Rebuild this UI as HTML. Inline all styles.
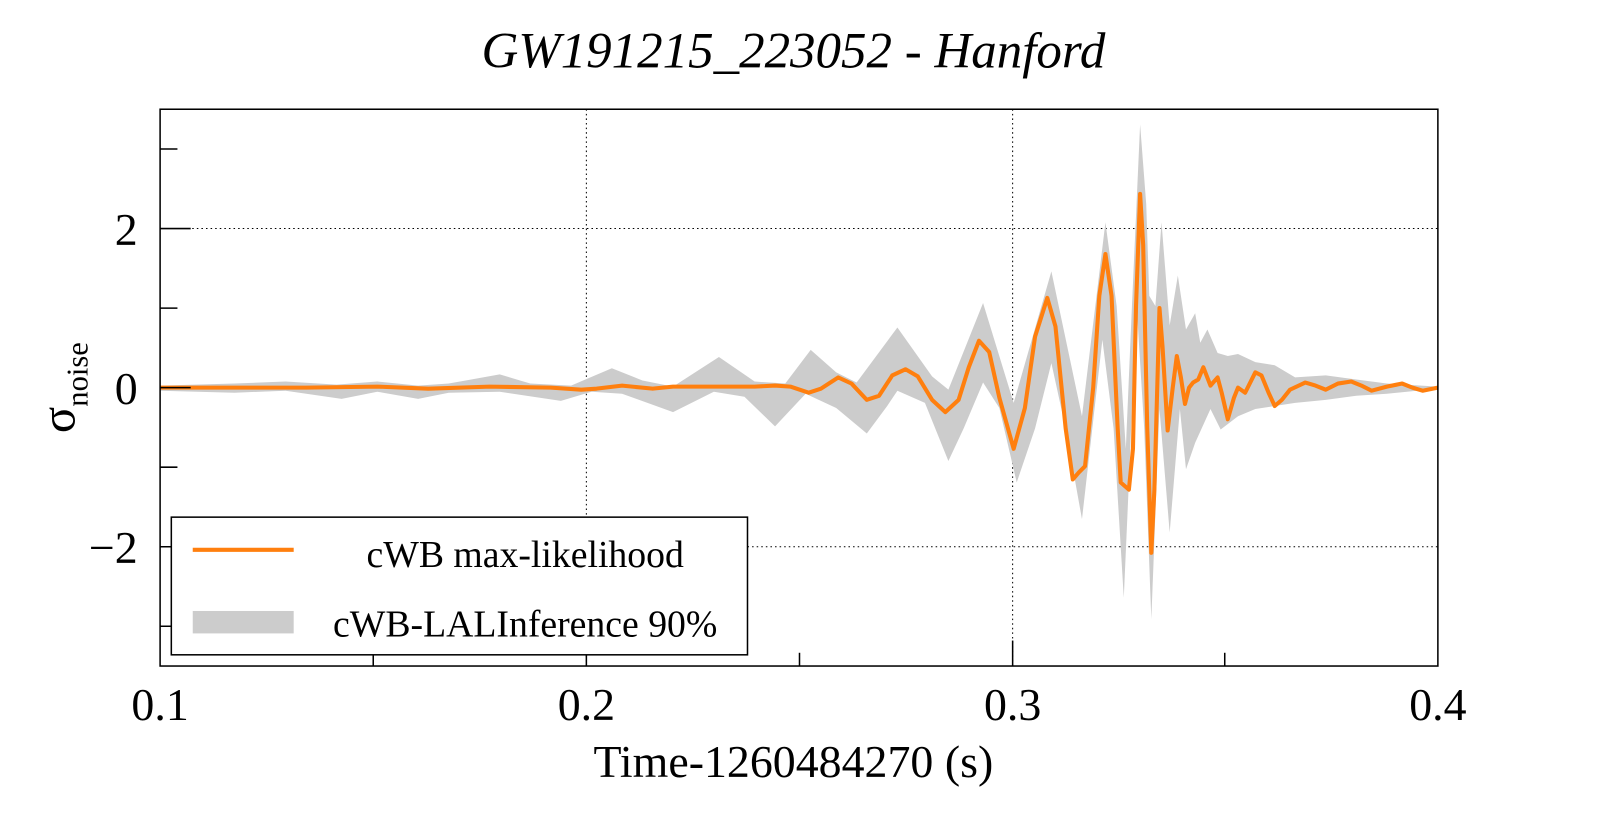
<!DOCTYPE html>
<html><head><meta charset="utf-8"><style>
html,body{margin:0;padding:0;background:#fff;}
svg{display:block;}
text{font-family:"Liberation Serif",serif;fill:#000;}
</style></head><body>
<svg width="1599" height="813" viewBox="0 0 1568 797" xmlns="http://www.w3.org/2000/svg">
<rect width="1568" height="797" fill="#fff"/>
<text x="778" y="66" font-size="50" font-style="italic" text-anchor="middle">GW191215_223052 - Hanford</text>
<g stroke="#000" stroke-width="1" stroke-dasharray="1.5,3">
<line x1="575" y1="107" x2="575" y2="653"/>
<line x1="993" y1="107" x2="993" y2="653"/>
<line x1="157" y1="224" x2="1410" y2="224"/>
<line x1="157" y1="536" x2="1410" y2="536"/>
</g>
<polygon id="band" fill="#cccccc" points="157,378 230,376 280,374 330,377 370,374 410,378 440,376 490,367 520,376 560,378 600,361 630,373 660,379 705,350 740,374 770,376 795,343 820,365 840,375 880,321 914,369 930,382 964,297 994,395 1031,266 1061,408 1084,218 1095,300 1104,440 1110,300 1118,122 1124,200 1127,290 1133,300 1139,218 1147,319 1155,270 1163,323 1172,307 1177,336 1184,323 1194,346 1204,349 1214,347 1231,355 1250,358 1270,370 1300,368 1330,372 1360,376 1410,379 1410,381 1360,386 1330,388 1300,392 1270,395 1250,398 1231,401 1214,408 1197,421 1187,401 1172,434 1163,460 1157,401 1147,522 1137,401 1129,607 1122,420 1114,290 1108,450 1102,586 1092,420 1081,333 1070,430 1061,509 1045,420 1031,356 1015,420 997,473 980,400 964,375 945,420 930,452 907,395 880,383 870,398 850,425 820,400 790,386 760,418 730,389 700,384 660,404 610,386 580,384 550,393 490,384 440,385 410,391 370,384 335,391 280,383 230,385 157,383"/>
<polyline id="orange" fill="none" stroke="#ff7f0e" stroke-width="4" stroke-linejoin="round" points="157,380 300,380 370,379 420,381 480,379 540,380 570,382 585,381 610,378 640,381 660,379 700,379 740,379 760,378 775,379 793,385 805,381 822,370 835,376 850,392 862,388 875,368 888,362 900,369 914,392 927,404 940,392 950,360 960,334 970,345 980,390 994,440 1005,400 1015,330 1027,292 1035,320 1045,420 1052,470 1058,463 1064,457 1072,380 1078,290 1084,249 1090,290 1096,420 1099,473 1107,480 1111,440 1114,300 1118,190 1121,240 1125,420 1129,542 1132,480 1137,302 1140,340 1145,422 1150,380 1154,349 1158,370 1162,396 1166,380 1170,375 1175,372 1180,360 1187,378 1194,370 1198,385 1204,411 1210,390 1214,380 1221,385 1231,365 1237,368 1244,385 1250,398 1257,392 1265,382 1280,375 1290,378 1300,382 1312,376 1325,374 1335,378 1345,383 1360,379 1375,376 1385,380 1395,383 1410,380"/>
<rect x="157" y="107" width="1253" height="546" fill="none" stroke="#000" stroke-width="1.5"/>
<g stroke="#000" stroke-width="1.5">
<line x1="157" y1="224" x2="187" y2="224"/><line x1="157" y1="380" x2="187" y2="380"/><line x1="157" y1="536" x2="187" y2="536"/>
<line x1="157" y1="146" x2="174" y2="146"/><line x1="157" y1="302" x2="174" y2="302"/><line x1="157" y1="458" x2="174" y2="458"/><line x1="157" y1="614" x2="174" y2="614"/>
<line x1="575" y1="653" x2="575" y2="628"/><line x1="993" y1="653" x2="993" y2="628"/>
<line x1="366" y1="653" x2="366" y2="640"/><line x1="784" y1="653" x2="784" y2="640"/><line x1="1201" y1="653" x2="1201" y2="640"/>
</g>
<rect x="168" y="507" width="565" height="135" fill="#fff" stroke="#000" stroke-width="1.5"/>
<line x1="189" y1="539" x2="288" y2="539" stroke="#ff7f0e" stroke-width="4"/>
<rect x="189" y="599" width="99" height="22" fill="#cccccc"/>
<text x="515" y="556" font-size="37" text-anchor="middle">cWB max-likelihood</text>
<text x="515" y="624" font-size="37" text-anchor="middle">cWB-LALInference 90%</text>
<g font-size="45" text-anchor="middle">
<text x="157" y="706">0.1</text><text x="575" y="706">0.2</text><text x="993" y="706">0.3</text><text x="1410" y="706">0.4</text>
</g>
<g font-size="45" text-anchor="end">
<text x="135" y="240">2</text><text x="135" y="396">0</text><text x="135" y="552">−2</text>
</g>
<text x="778" y="762" font-size="45" text-anchor="middle">Time-1260484270 (s)</text>
<g transform="translate(73,380) rotate(-90)">
<text x="0" y="0" font-size="48" text-anchor="middle">σ<tspan font-size="30" dy="13">noise</tspan></text>
</g>
<script>
(function(){
function smooth(pts,closed){
  var d="M"+pts[0][0]+","+pts[0][1];
  var n=pts.length;
  for(var i=0;i<n-1;i++){
    var p0=pts[i>0?i-1:i],p1=pts[i],p2=pts[i+1],p3=pts[i+2<n?i+2:i+1];
    var t=1/6;
    var c1x=p1[0]+(p2[0]-p0[0])*t,c1y=p1[1]+(p2[1]-p0[1])*t;
    var c2x=p2[0]-(p3[0]-p1[0])*t,c2y=p2[1]-(p3[1]-p1[1])*t;
    d+=" C"+c1x.toFixed(1)+","+c1y.toFixed(1)+" "+c2x.toFixed(1)+","+c2y.toFixed(1)+" "+p2[0]+","+p2[1];
  }
  if(closed)d+="Z";
  return d;
}
function parse(el){return el.getAttribute("points").trim().split(/\s+/).map(function(s){return s.split(",").map(Number);});}
var ns="http://www.w3.org/2000/svg";
var o=document.getElementById("orange");
var p=document.createElementNS(ns,"path");
p.setAttribute("d",smooth(parse(o),false));
p.setAttribute("fill","none");p.setAttribute("stroke","#ff7f0e");p.setAttribute("stroke-width","4");p.setAttribute("stroke-linejoin","round");
o.parentNode.replaceChild(p,o);
})();
</script>
</svg>
</body></html>
